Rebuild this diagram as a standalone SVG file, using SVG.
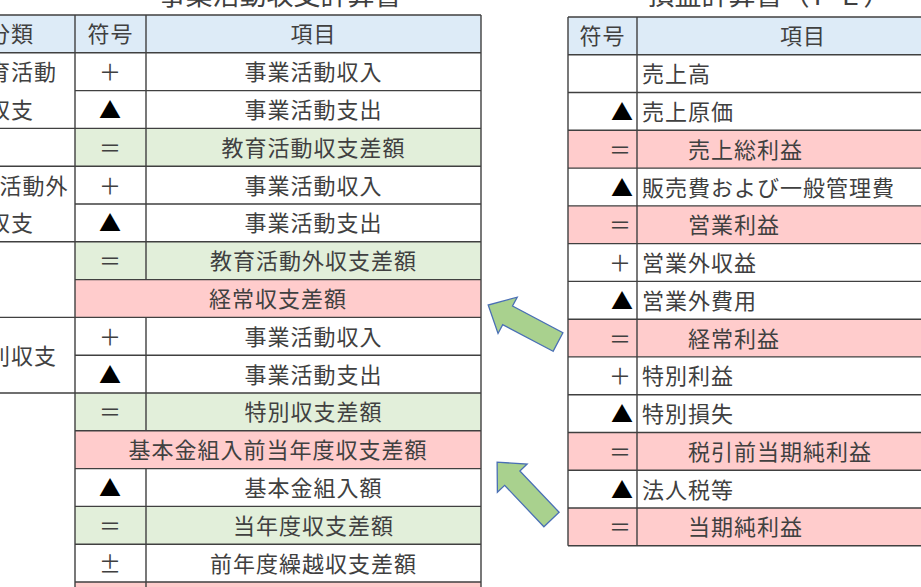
<svg xmlns="http://www.w3.org/2000/svg" width="921" height="587" viewBox="0 0 921 587">
<defs>
<style>
.t{font-family:"Noto Sans CJK JP","Noto Sans",sans-serif;font-size:22px;fill:#404040;dominant-baseline:central;letter-spacing:1px;transform:translate(0px,-1.5px)}
.c{text-anchor:middle}
.r{text-anchor:end}
.k{fill:#000}
.ttl{font-family:"Noto Sans CJK JP","Noto Sans",sans-serif;font-size:27px;fill:#404040;text-anchor:middle;dominant-baseline:central}
.hd{fill:#DDEBF7}
.gr{fill:#E2EFDA}
.pk{fill:#FFCCCC}
.ln{stroke:#404040;stroke-width:1.4;fill:none}
.arrow{fill:#A9D18E;stroke:#4A6FB5;stroke-width:1.3;stroke-linejoin:miter}
</style>
<polygon id="blk" points="0,-10.5 57,-10.5 57,-20.5 79,0 57,20.5 57,10.5 0,10.5"/>
</defs>
<rect width="921" height="587" fill="#fff"/>

<g id="title-left"><text class="ttl" x="280" y="-7">事業活動収支計算書</text></g>
<g id="title-right"><text class="ttl" x="769" y="-7">損益計算書（ＰＬ）</text></g>

<g id="table-left">
<g id="left-fills">
<rect class="hd" x="-55" y="15" width="536" height="37.8"/>
<rect class="gr" x="75" y="128.4" width="406" height="37.8"/>
<rect class="gr" x="75" y="241.8" width="406" height="37.8"/>
<rect class="pk" x="75" y="279.6" width="406" height="37.8"/>
<rect class="gr" x="75" y="393" width="406" height="37.8"/>
<rect class="pk" x="75" y="430.8" width="406" height="37.8"/>
<rect class="gr" x="75" y="506.4" width="406" height="37.8"/>
<rect class="pk" x="75" y="582" width="406" height="10"/>
</g>
<g id="left-grid" class="ln">
<path d="M-55 15H481M-55 52.8H481M-55 128.4H481M-55 166.2H481M-55 241.8H481M-55 317.4H481M-55 393H481"/>
<path d="M75 90.6H481M75 204H481M75 279.6H481M75 355.2H481M75 430.8H481M75 468.6H481M75 506.4H481M75 544.2H481M75 582H481"/>
<path d="M75 15V590M481 15V590M146 15V279.6M146 317.4V430.8M146 468.6V590"/>
</g>
<g id="left-header">
<text class="t c" x="11" y="33.9">分類</text>
<text class="t c" x="110.5" y="33.9">符号</text>
<text class="t c" x="313.5" y="33.9">項目</text>
</g>
<g id="left-cat">
<text class="t c" x="11" y="71.7">教育活動</text>
<text class="t c" x="11" y="109.5">収支</text>
<text class="t c" x="11" y="185.1">教育活動外</text>
<text class="t c" x="11" y="222.9">収支</text>
<text class="t c" x="11" y="355.2">特別収支</text>
</g>
<g id="left-row1"><text class="t c" x="110.5" y="71.7">＋</text><text class="t c" x="313.5" y="71.7">事業活動収入</text></g>
<g id="left-row2"><text class="t c k" x="110.5" y="109.5">▲</text><text class="t c" x="313.5" y="109.5">事業活動支出</text></g>
<g id="left-row3"><text class="t c" x="110.5" y="147.3">＝</text><text class="t c" x="313.5" y="147.3">教育活動収支差額</text></g>
<g id="left-row4"><text class="t c" x="110.5" y="185.1">＋</text><text class="t c" x="313.5" y="185.1">事業活動収入</text></g>
<g id="left-row5"><text class="t c k" x="110.5" y="222.9">▲</text><text class="t c" x="313.5" y="222.9">事業活動支出</text></g>
<g id="left-row6"><text class="t c" x="110.5" y="260.7">＝</text><text class="t c" x="313.5" y="260.7">教育活動外収支差額</text></g>
<g id="left-row7"><text class="t c" x="278" y="298.5">経常収支差額</text></g>
<g id="left-row8"><text class="t c" x="110.5" y="336.3">＋</text><text class="t c" x="313.5" y="336.3">事業活動収入</text></g>
<g id="left-row9"><text class="t c k" x="110.5" y="374.1">▲</text><text class="t c" x="313.5" y="374.1">事業活動支出</text></g>
<g id="left-row10"><text class="t c" x="110.5" y="411.9">＝</text><text class="t c" x="313.5" y="411.9">特別収支差額</text></g>
<g id="left-row11"><text class="t c" x="278" y="449.7">基本金組入前当年度収支差額</text></g>
<g id="left-row12"><text class="t c k" x="110.5" y="487.5">▲</text><text class="t c" x="313.5" y="487.5">基本金組入額</text></g>
<g id="left-row13"><text class="t c" x="110.5" y="525.3">＝</text><text class="t c" x="313.5" y="525.3">当年度収支差額</text></g>
<g id="left-row14"><text class="t c" x="110.5" y="563.1">±</text><text class="t c" x="313.5" y="563.1">前年度繰越収支差額</text></g>
</g>

<g id="table-right">
<g id="right-fills">
<rect class="hd" x="568" y="17" width="362" height="37.8"/>
<rect class="pk" x="568" y="130.3" width="362" height="37.8"/>
<rect class="pk" x="568" y="205.9" width="362" height="37.7"/>
<rect class="pk" x="568" y="319.2" width="362" height="37.7"/>
<rect class="pk" x="568" y="432.5" width="362" height="37.7"/>
<rect class="pk" x="568" y="508" width="362" height="37.8"/>
</g>
<g id="right-grid" class="ln">
<path d="M568 17H930M568 54.8H930M568 92.5H930M568 130.3H930M568 168.1H930M568 205.9H930M568 243.6H930M568 281.4H930M568 319.2H930M568 356.9H930M568 394.7H930M568 432.5H930M568 470.2H930M568 508H930M568 545.8H930"/>
<path d="M568 17V545.8M637 17V545.8"/>
</g>
<g id="right-header"><text class="t c" x="602.5" y="35.9">符号</text><text class="t c" x="803" y="35.9">項目</text></g>
<g id="right-row1"><text class="t" x="642" y="73.65">売上高</text></g>
<g id="right-row2"><text class="t r k" x="634" y="111.4">▲</text><text class="t" x="642" y="111.4">売上原価</text></g>
<g id="right-row3"><text class="t r" x="632" y="149.2">＝</text><text class="t" x="688" y="149.2">売上総利益</text></g>
<g id="right-row4"><text class="t r k" x="634" y="187">▲</text><text class="t" x="642" y="187">販売費および一般管理費</text></g>
<g id="right-row5"><text class="t r" x="632" y="224.75">＝</text><text class="t" x="688" y="224.75">営業利益</text></g>
<g id="right-row6"><text class="t r" x="632" y="262.5">＋</text><text class="t" x="642" y="262.5">営業外収益</text></g>
<g id="right-row7"><text class="t r k" x="634" y="300.3">▲</text><text class="t" x="642" y="300.3">営業外費用</text></g>
<g id="right-row8"><text class="t r" x="632" y="338.05">＝</text><text class="t" x="688" y="338.05">経常利益</text></g>
<g id="right-row9"><text class="t r" x="632" y="375.8">＋</text><text class="t" x="642" y="375.8">特別利益</text></g>
<g id="right-row10"><text class="t r k" x="634" y="413.6">▲</text><text class="t" x="642" y="413.6">特別損失</text></g>
<g id="right-row11"><text class="t r" x="632" y="451.35">＝</text><text class="t" x="688" y="451.35">税引前当期純利益</text></g>
<g id="right-row12"><text class="t r k" x="634" y="489.1">▲</text><text class="t" x="642" y="489.1">法人税等</text></g>
<g id="right-row13"><text class="t r" x="632" y="526.9">＝</text><text class="t" x="688" y="526.9">当期純利益</text></g>
</g>

<g id="connectors">
<use href="#blk" class="arrow" transform="translate(558,342) rotate(207.9)"/>
<use href="#blk" class="arrow" transform="translate(551.5,519.5) rotate(226.5)"/>
</g>
</svg>
